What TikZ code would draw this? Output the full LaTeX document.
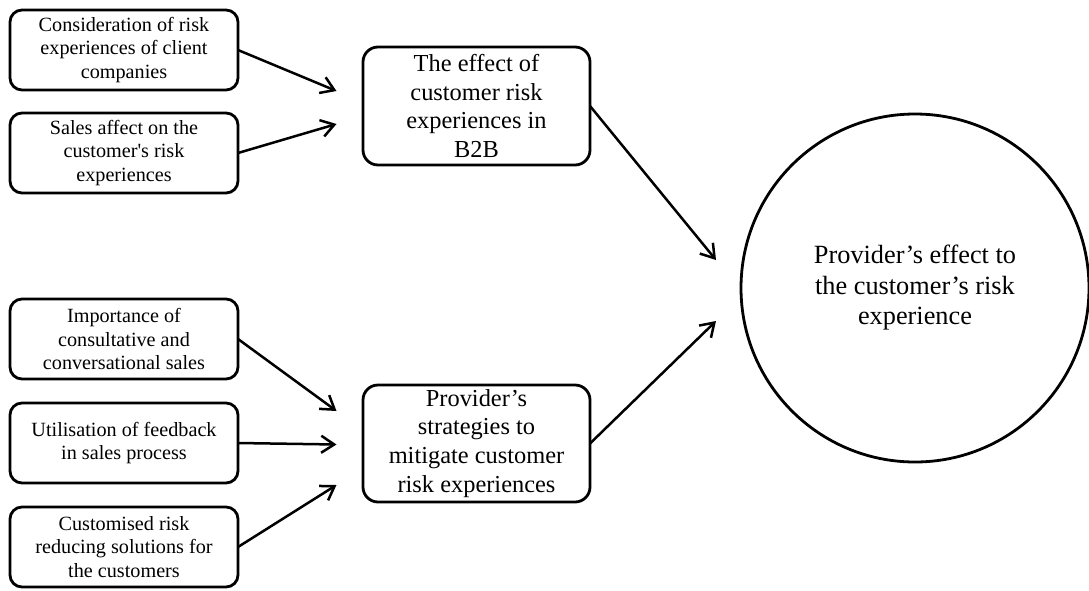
\documentclass[tikz,border=0pt]{standalone}
\usepackage{fontspec}
\setmainfont{Liberation Serif}
\usetikzlibrary{arrows.meta}
\begin{document}
\begin{tikzpicture}[x=1pt,y=-1pt,
  smallbox/.style={draw, line width=2.8pt, rounded corners=12pt, minimum width=228pt, minimum height=80pt,
    align=center, inner sep=0pt, outer sep=0pt, font=\fontsize{20.2}{23.5}\selectfont},
  bigbox/.style={draw, line width=2.8pt, rounded corners=15pt, minimum width=227pt, minimum height=118pt,
    align=center, inner sep=0pt, outer sep=0pt, font=\fontsize{24.4}{28.8}\selectfont},
  bigcirc/.style={circle, draw, line width=2.8pt, minimum size=348pt, inner sep=0pt, outer sep=0pt,
    align=center, font=\fontsize{26.3}{30.5}\selectfont},
  arr/.style={line width=2.5pt, -{Straight Barb[length=13pt,width=17pt]}}]
\useasboundingbox (0,0) rectangle (1089,590);

\node[smallbox] (b1) at (124,50) {Consideration of risk\\experiences of client\\companies};
\node[smallbox] (b2) at (124,153) {Sales affect on the\\customer\textquotesingle s risk\\experiences};
\node[smallbox] (b3) at (124,339) {Importance of\\consultative and\\conversational sales};
\node[smallbox] (b4) at (124,443) {Utilisation of feedback\\in sales process};
\node[smallbox] (b5) at (124,547) {Customised risk\\reducing solutions for\\the customers};

\node[bigbox] (b2b) at (476.5,106) {The effect of\\customer risk\\experiences in\\B2B};
\node[bigbox, minimum height=117pt] (strat) at (476.5,443.5) {Provider’s\\strategies to\\mitigate customer\\risk experiences};

\node[bigcirc] (eff) at (915,288) {Provider’s effect to\\the customer’s risk\\experience};

\draw[arr] (b1.east) -- ([xshift=-26.5pt,yshift=15pt]b2b.west);
\draw[arr] (b2.east) -- ([xshift=-26.5pt,yshift=-18pt]b2b.west);
\draw[arr] (b3.east) -- ([xshift=-26.5pt,yshift=32.5pt]strat.west);
\draw[arr] (b4.east) -- ([xshift=-26.5pt,yshift=-1pt]strat.west);
\draw[arr] (b5.east) -- ([xshift=-26.5pt,yshift=-41.5pt]strat.west);
\draw[arr] (b2b.east) -- ([xshift=-25pt,yshift=28pt]eff.west);
\draw[arr] (strat.east) -- ([xshift=-25pt,yshift=-33pt]eff.west);
\end{tikzpicture}
\end{document}
